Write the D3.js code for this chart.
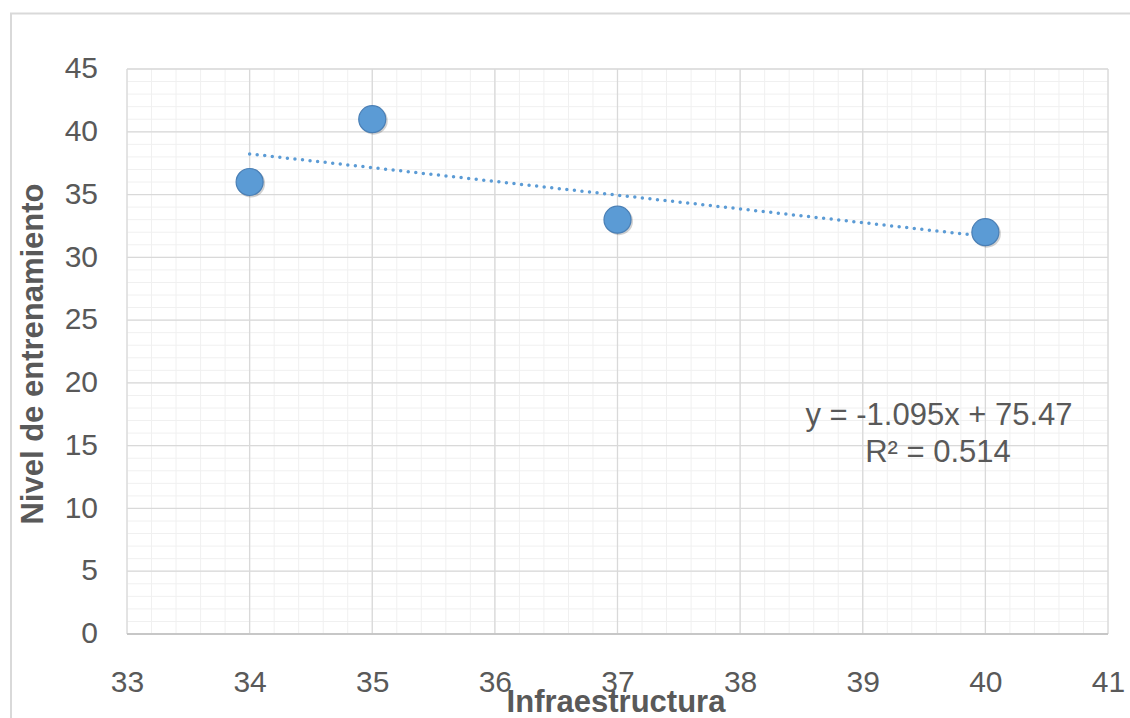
<!DOCTYPE html>
<html>
<head>
<meta charset="utf-8">
<script src="https://cdn.jsdelivr.net/npm/d3@7"></script>
<style>
  body { margin: 0; background: #fff; }
  svg { display: block; font-family: "Liberation Sans", Arial, sans-serif; }
</style>
</head>
<body>
<svg id="chart" width="1130" height="718"></svg>
<script>
// data
var infraestructura = [34, 35, 37, 40]
var entrenamiento = [36, 41, 33, 32]
var xTicks = [33, 34, 35, 36, 37, 38, 39, 40, 41]
var yTicks = [0, 5, 10, 15, 20, 25, 30, 35, 40, 45]
var eqLabel = "y = -1.095x + 75.47"
var r2Label = "R\u00b2 = 0.514"

var svg = d3.select("#chart")
var plotLeft = 127, plotRight = 1108, plotTop = 69, plotBottom = 634

var xScale = d3.scaleLinear().domain([33, 41]).range([plotLeft, plotRight])
var yScale = d3.scaleLinear().domain([0, 45]).range([plotBottom, plotTop])

// outer chart border (cut off by the picture edges)
svg.append("rect")
  .attr("x", 11).attr("y", 13.5)
  .attr("width", 1200).attr("height", 800)
  .attr("fill", "none")
  .attr("stroke", "#d9d9d9")
  .attr("stroke-width", 2)

// minor grid
var xMinor = d3.range(33, 41.001, 0.2)
var yMinor = d3.range(0, 45.001, 1)
var grid = svg.append("g")
grid.selectAll(".xminor").data(xMinor).join("line")
  .attr("x1", d => xScale(d)).attr("x2", d => xScale(d))
  .attr("y1", plotTop).attr("y2", plotBottom)
  .attr("stroke", "#f0f0f0").attr("stroke-width", 1)
grid.selectAll(".yminor").data(yMinor).join("line")
  .attr("y1", d => yScale(d)).attr("y2", d => yScale(d))
  .attr("x1", plotLeft).attr("x2", plotRight)
  .attr("stroke", "#f0f0f0").attr("stroke-width", 1)

// major grid
grid.selectAll(".xmajor").data(xTicks).join("line")
  .attr("x1", d => xScale(d)).attr("x2", d => xScale(d))
  .attr("y1", plotTop).attr("y2", plotBottom)
  .attr("stroke", "#d9d9d9").attr("stroke-width", 1.3)
grid.selectAll(".ymajor").data(yTicks).join("line")
  .attr("y1", d => yScale(d)).attr("y2", d => yScale(d))
  .attr("x1", plotLeft).attr("x2", plotRight)
  .attr("stroke", "#d9d9d9").attr("stroke-width", 1.3)

// bottom axis line
svg.append("line")
  .attr("x1", plotLeft).attr("x2", plotRight).attr("y1", plotBottom).attr("y2", plotBottom)
  .attr("stroke", "#bfbfbf").attr("stroke-width", 1.5)

var xAxis = d3.axisBottom(xScale).tickValues(xTicks).tickSize(0).tickPadding(0)
var yAxis = d3.axisLeft(yScale).tickValues(yTicks).tickSize(0).tickPadding(0)

var gx = svg.append("g")
  .attr("transform", "translate(0," + plotBottom + ")")
  .call(xAxis)
gx.select(".domain").remove()
gx.selectAll("text")
  .attr("y", 58).attr("dy", 0)
  .attr("fill", "#595959")
  .style("font-size", "30px")
  .style("font-family", "Liberation Sans, Arial, sans-serif")

var gy = svg.append("g")
  .attr("transform", "translate(" + plotLeft + ",0)")
  .call(yAxis)
gy.select(".domain").remove()
gy.selectAll("text")
  .attr("x", -29).attr("dy", "0.29em")
  .attr("fill", "#595959")
  .style("font-size", "30px")
  .style("font-family", "Liberation Sans, Arial, sans-serif")

// trend line from least squares fit
var mx = d3.mean(infraestructura), my = d3.mean(entrenamiento)
var sxy = d3.sum(infraestructura, (x, i) => (x - mx) * (entrenamiento[i] - my))
var sxx = d3.sum(infraestructura, x => (x - mx) * (x - mx))
var m = sxy / sxx, b = my - m * mx
var xEnds = [d3.min(infraestructura), d3.max(infraestructura)]

svg.append("line")
  .attr("x1", xScale(xEnds[0])).attr("y1", yScale(m * xEnds[0] + b))
  .attr("x2", xScale(xEnds[1])).attr("y2", yScale(m * xEnds[1] + b))
  .attr("stroke", "#5b9bd5")
  .attr("stroke-width", 3.5)
  .attr("stroke-linecap", "round")
  .attr("stroke-dasharray", "0 7.6")

// points
var pts = infraestructura.map((x, i) => ({x: x, y: entrenamiento[i]}))
svg.append("g").selectAll("circle")
  .data(pts).join("circle")
  .attr("cx", d => xScale(d.x) + 1.5)
  .attr("cy", d => yScale(d.y) + 1.5)
  .attr("r", 14)
  .attr("fill", "#000")
  .attr("opacity", 0.18)
svg.append("g").selectAll("circle")
  .data(pts).join("circle")
  .attr("cx", d => xScale(d.x))
  .attr("cy", d => yScale(d.y))
  .attr("r", 13.5)
  .attr("fill", "#5b9bd5")
  .attr("stroke", "#4a7fb5")
  .attr("stroke-width", 1.2)

// equation
svg.append("text")
  .attr("x", 939).attr("y", 425)
  .attr("text-anchor", "middle")
  .attr("fill", "#595959")
  .style("font-size", "31px")
  .text(eqLabel)
svg.append("text")
  .attr("x", 938).attr("y", 462)
  .attr("text-anchor", "middle")
  .attr("fill", "#595959")
  .style("font-size", "31px")
  .text(r2Label)

// axis titles
svg.append("text")
  .attr("x", 616).attr("y", 712)
  .attr("text-anchor", "middle")
  .attr("fill", "#595959")
  .style("font-size", "31px")
  .style("font-weight", "bold")
  .text("Infraestructura")

svg.append("text")
  .attr("transform", "translate(43,354) rotate(-90)")
  .attr("text-anchor", "middle")
  .attr("fill", "#595959")
  .style("font-size", "31px")
  .style("font-weight", "bold")
  .text("Nivel de entrenamiento")
</script>
</body>
</html>
